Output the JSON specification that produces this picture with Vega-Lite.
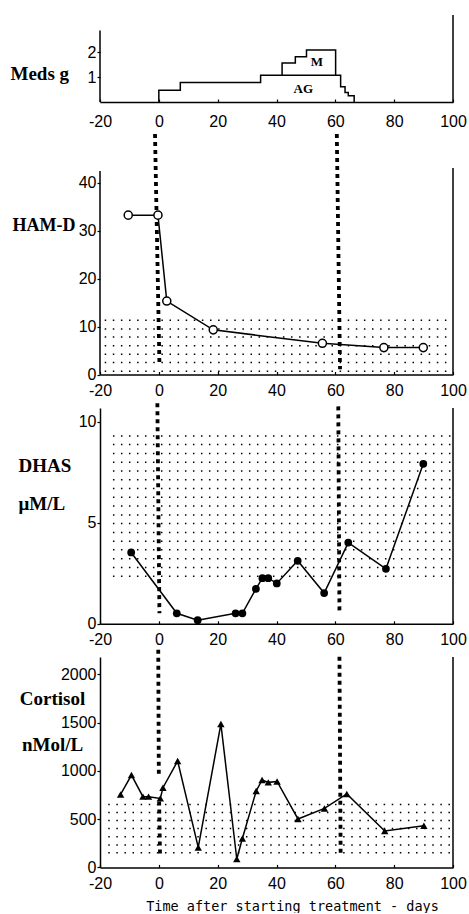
{
  "$schema": "https://vega.github.io/schema/vega-lite/v6.json",
  "background": "white",
  "padding": {"left": 10, "top": 14, "right": 0, "bottom": 0},
  "config": {
    "view": {"stroke": null},
    "axis": {
      "grid": false,
      "labelFont": "Liberation Sans",
      "labelFontSize": 16,
      "labelColor": "black",
      "domainColor": "black",
      "domainWidth": 1.5,
      "tickColor": "black",
      "tickWidth": 1.2,
      "titleFont": "Liberation Serif",
      "titleFontWeight": "bold",
      "titleFontSize": 19,
      "titleColor": "black",
      "labelExpr": "'' + datum.value"
    }
  },
  "datasets": {
    "meds_ag": [
      {"i": 1, "day": 0, "g": 0}, {"i": 2, "day": 0, "g": 0.47}, {"i": 3, "day": 7.3, "g": 0.47},
      {"i": 4, "day": 7.3, "g": 0.78}, {"i": 5, "day": 34.6, "g": 0.78}, {"i": 6, "day": 34.6, "g": 1.08},
      {"i": 7, "day": 61.8, "g": 1.08}, {"i": 8, "day": 61.8, "g": 0.61}, {"i": 9, "day": 63.3, "g": 0.61},
      {"i": 10, "day": 63.3, "g": 0.38}, {"i": 11, "day": 64.4, "g": 0.38}, {"i": 12, "day": 64.4, "g": 0.25},
      {"i": 13, "day": 66.4, "g": 0.25}, {"i": 14, "day": 66.4, "g": 0}
    ],
    "meds_m": [
      {"i": 1, "day": 41.9, "g": 1.08}, {"i": 2, "day": 41.9, "g": 1.57}, {"i": 3, "day": 46.4, "g": 1.57},
      {"i": 4, "day": 46.4, "g": 1.82}, {"i": 5, "day": 50.2, "g": 1.82}, {"i": 6, "day": 50.2, "g": 2.09},
      {"i": 7, "day": 60.1, "g": 2.09}, {"i": 8, "day": 60.1, "g": 1.08}
    ],
    "meds_labels": [
      {"day": 53.7, "g": 1.59, "label": "M"},
      {"day": 49.1, "g": 0.51, "label": "AG"}
    ],
    "hamd": [
      {"day": -10.4, "score": 33.2}, {"day": -0.3, "score": 33.2}, {"day": 2.7, "score": 15.3},
      {"day": 18.5, "score": 9.3}, {"day": 55.6, "score": 6.5}, {"day": 76.5, "score": 5.6},
      {"day": 89.9, "score": 5.6}
    ],
    "hamd_dots": [
      {"level": 11.3}, {"level": 9.5}, {"level": 7.8}, {"level": 6.0}, {"level": 4.2}, {"level": 2.5}, {"level": 0.7}
    ],
    "dhas": [
      {"day": -9.4, "v": 3.53}, {"day": 6.1, "v": 0.52}, {"day": 13.2, "v": 0.18}, {"day": 26.1, "v": 0.52},
      {"day": 28.4, "v": 0.52}, {"day": 33.0, "v": 1.73}, {"day": 35.2, "v": 2.26}, {"day": 37.2, "v": 2.26},
      {"day": 40.1, "v": 2.0}, {"day": 47.2, "v": 3.12}, {"day": 56.2, "v": 1.52}, {"day": 64.4, "v": 4.02},
      {"day": 77.2, "v": 2.72}, {"day": 89.9, "v": 7.92}
    ],
    "dhas_dots": [
      {"level": 9.30}, {"level": 8.87}, {"level": 8.43}, {"level": 8.00}, {"level": 7.56}, {"level": 7.13},
      {"level": 6.70}, {"level": 6.26}, {"level": 5.83}, {"level": 5.39}, {"level": 4.96}, {"level": 4.52},
      {"level": 4.09}, {"level": 3.66}, {"level": 3.22}, {"level": 2.79}, {"level": 2.35}
    ],
    "cort": [
      {"day": -13, "v": 756}, {"day": -9.3, "v": 957}, {"day": -5.4, "v": 733}, {"day": -3.5, "v": 733},
      {"day": 0.5, "v": 715}, {"day": 1.4, "v": 826}, {"day": 6.4, "v": 1102}, {"day": 13.4, "v": 207},
      {"day": 21.1, "v": 1486}, {"day": 26.5, "v": 87}, {"day": 28.4, "v": 300}, {"day": 33.1, "v": 792},
      {"day": 35.1, "v": 906}, {"day": 37.2, "v": 881}, {"day": 40.2, "v": 890}, {"day": 47.3, "v": 502},
      {"day": 56.3, "v": 611}, {"day": 63.9, "v": 761}, {"day": 76.8, "v": 377}, {"day": 90.1, "v": 432}
    ],
    "cort_dots": [
      {"level": 653}, {"level": 570}, {"level": 487}, {"level": 404}, {"level": 318}, {"level": 231}, {"level": 152}
    ]
  },
  "vconcat": [
    {
      "width": 353,
      "height": 87,
      "layer": [
        {
          "data": {"name": "meds_ag"},
          "mark": {"type": "line", "color": "black", "strokeWidth": 1.5},
          "encoding": {
            "x": {"field": "day", "type": "quantitative", "scale": {"domain": [-20, 100], "nice": false, "zero": false},
              "axis": {"values": [-20, 0, 20, 40, 60, 80, 100], "title": null, "labelFlush": false, "labelOverlap": false, "tickSize": -3, "labelPadding": 14}},
            "y": {"field": "g", "type": "quantitative", "scale": {"domain": [0, 3.5], "nice": false},
              "axis": {"values": [1, 2], "domain": false, "tickSize": 3, "labelPadding": 1, "title": "Meds g", "titleAngle": 0, "titleAlign": "left", "titleBaseline": "alphabetic", "titleX": -90, "titleY": 64.5}},
            "order": {"field": "i"}
          }
        },
        {
          "data": {"name": "meds_m"},
          "mark": {"type": "line", "color": "black", "strokeWidth": 1.5},
          "encoding": {
            "x": {"field": "day", "type": "quantitative"},
            "y": {"field": "g", "type": "quantitative"},
            "order": {"field": "i"}
          }
        },
        {
          "data": {"name": "meds_labels"},
          "mark": {"type": "text", "font": "Liberation Serif", "fontWeight": "bold", "fontSize": 13, "color": "black", "baseline": "middle"},
          "encoding": {
            "x": {"field": "day", "type": "quantitative"},
            "y": {"field": "g", "type": "quantitative"},
            "text": {"field": "label"}
          }
        },
        {
          "data": {"values": [{}]},
          "mark": {"type": "rule", "color": "black", "strokeWidth": 1.5},
          "encoding": {"x": {"datum": -20}, "y": {"datum": 0}, "y2": {"datum": 2.88}}
        },
        {
          "data": {"values": [{}]},
          "mark": {"type": "rule", "color": "black", "strokeWidth": 1.5},
          "encoding": {"x": {"datum": 100}, "y": {"datum": 0}, "y2": {"datum": 3.5}}
        }
      ]
    },
    {
      "width": 353,
      "height": 239.5,
      "layer": [
        {
          "data": {"name": "hamd_dots"},
          "mark": {"type": "rule", "color": "black", "strokeWidth": 1.5, "strokeDash": [1.5, 6.6]},
          "encoding": {
            "x": {"datum": -18.4, "scale": {"domain": [-20, 100], "nice": false, "zero": false},
              "axis": {"values": [-20, 0, 20, 40, 60, 80, 100], "title": null, "labelFlush": false, "labelOverlap": false, "tickSize": -3, "labelPadding": 11}},
            "x2": {"datum": 100},
            "y": {"field": "level", "type": "quantitative", "scale": {"domain": [0, 49.9], "nice": false},
              "axis": {"values": [0, 10, 20, 30, 40], "domain": false, "tickSize": 3, "labelPadding": 1, "title": "HAM-D", "titleFontSize": 18, "titleAngle": 0, "titleAlign": "left", "titleBaseline": "alphabetic", "titleX": -88, "titleY": 95.8}}
          }
        },
        {
          "data": {"values": [{}]},
          "mark": {"type": "rule", "color": "black", "strokeWidth": 3.8, "strokeDash": [4, 4]},
          "encoding": {"x": {"datum": -1.3}, "x2": {"datum": 0.2}, "y": {"datum": 50.1}, "y2": {"datum": 2.2}}
        },
        {
          "data": {"values": [{}]},
          "mark": {"type": "rule", "color": "black", "strokeWidth": 3.8, "strokeDash": [4, 4]},
          "encoding": {"x": {"datum": 60.5}, "x2": {"datum": 61.6}, "y": {"datum": 50.1}, "y2": {"datum": 1.1}}
        },
        {
          "data": {"values": [{}]},
          "mark": {"type": "rule", "color": "black", "strokeWidth": 1.5},
          "encoding": {"x": {"datum": -20}, "y": {"datum": 0}, "y2": {"datum": 42.4}}
        },
        {
          "data": {"values": [{}]},
          "mark": {"type": "rule", "color": "black", "strokeWidth": 1.5},
          "encoding": {"x": {"datum": 100}, "y": {"datum": 0}, "y2": {"datum": 43.0}}
        },
        {
          "data": {"name": "hamd"},
          "mark": {"type": "line", "color": "black", "strokeWidth": 1.5},
          "encoding": {
            "x": {"field": "day", "type": "quantitative"},
            "y": {"field": "score", "type": "quantitative"}
          }
        },
        {
          "data": {"name": "hamd"},
          "mark": {"type": "point", "shape": "circle", "size": 65, "filled": true, "fill": "white", "stroke": "black", "strokeWidth": 1.5, "opacity": 1},
          "encoding": {
            "x": {"field": "day", "type": "quantitative"},
            "y": {"field": "score", "type": "quantitative"}
          }
        }
      ]
    },
    {
      "width": 353,
      "height": 215.8,
      "layer": [
        {
          "data": {"name": "dhas_dots"},
          "mark": {"type": "rule", "color": "black", "strokeWidth": 1.5, "strokeDash": [1.5, 6.5]},
          "encoding": {
            "x": {"datum": -15.6, "scale": {"domain": [-20, 100], "nice": false, "zero": false},
              "axis": {"values": [-20, 0, 20, 40, 60, 80, 100], "title": null, "labelFlush": false, "labelOverlap": false, "tickSize": -3, "labelPadding": 11}},
            "x2": {"datum": 99.5},
            "y": {"field": "level", "type": "quantitative", "scale": {"domain": [0, 10.68], "nice": false},
              "axis": {"values": [0, 5, 10], "tickSize": 3, "labelPadding": 1, "title": ["DHAS", "μM/L"], "titleLineHeight": 37.7, "titleAngle": 0, "titleAlign": "left", "titleBaseline": "alphabetic", "titleX": -82, "titleY": 63.5}}
          }
        },
        {
          "data": {"values": [{}]},
          "mark": {"type": "rule", "color": "black", "strokeWidth": 3.8, "strokeDash": [4, 4]},
          "encoding": {"x": {"datum": -0.5}, "x2": {"datum": 0.2}, "y": {"datum": 10.92}, "y2": {"datum": 0.52}}
        },
        {
          "data": {"values": [{}]},
          "mark": {"type": "rule", "color": "black", "strokeWidth": 3.8, "strokeDash": [4, 4]},
          "encoding": {"x": {"datum": 61.0}, "x2": {"datum": 61.4}, "y": {"datum": 10.76}, "y2": {"datum": 0.61}}
        },
        {
          "data": {"values": [{}]},
          "mark": {"type": "rule", "color": "black", "strokeWidth": 1.5},
          "encoding": {"x": {"datum": 100}, "y": {"datum": 0}, "y2": {"datum": 10.68}}
        },
        {
          "data": {"name": "dhas"},
          "mark": {"type": "line", "color": "black", "strokeWidth": 1.5},
          "encoding": {
            "x": {"field": "day", "type": "quantitative"},
            "y": {"field": "v", "type": "quantitative"}
          }
        },
        {
          "data": {"name": "dhas"},
          "mark": {"type": "point", "shape": "circle", "size": 60, "filled": true, "color": "black", "opacity": 1},
          "encoding": {
            "x": {"field": "day", "type": "quantitative"},
            "y": {"field": "v", "type": "quantitative"}
          }
        }
      ]
    },
    {
      "width": 353,
      "height": 210.4,
      "layer": [
        {
          "data": {"name": "cort_dots"},
          "mark": {"type": "rule", "color": "black", "strokeWidth": 1.5, "strokeDash": [1.5, 6.6]},
          "encoding": {
            "x": {"datum": -17.2, "scale": {"domain": [-20, 100], "nice": false, "zero": false},
              "axis": {"values": [-20, 0, 20, 40, 60, 80, 100], "labelFlush": false, "labelOverlap": false, "tickSize": -3, "labelPadding": 11,
                "title": "Time after starting treatment - days", "titleFont": "DejaVu Sans Mono", "titleFontSize": 13.5, "titleFontWeight": "normal", "titleX": 192, "titleY": 43, "titleAlign": "center", "titleBaseline": "alphabetic"}},
            "x2": {"datum": 100},
            "y": {"field": "level", "type": "quantitative", "scale": {"domain": [0, 2180], "nice": false},
              "axis": {"values": [0, 500, 1000, 1500, 2000], "tickSize": 3, "labelPadding": 1, "title": ["Cortisol", "nMol/L"], "titleLineHeight": 46, "titleAngle": 0, "titleAlign": "center", "titleBaseline": "alphabetic", "titleX": -48, "titleY": 47.9}}
          }
        },
        {
          "data": {"values": [{}]},
          "mark": {"type": "rule", "color": "black", "strokeWidth": 3.8, "strokeDash": [4, 4]},
          "encoding": {"x": {"datum": -0.2}, "x2": {"datum": 0.0}, "y": {"datum": 2256}, "y2": {"datum": 940}}
        },
        {
          "data": {"values": [{}]},
          "mark": {"type": "rule", "color": "black", "strokeWidth": 3.8, "strokeDash": [4, 4]},
          "encoding": {"x": {"datum": 0.1}, "x2": {"datum": 0.4}, "y": {"datum": 683}, "y2": {"datum": 128}}
        },
        {
          "data": {"values": [{}]},
          "mark": {"type": "rule", "color": "black", "strokeWidth": 3.8, "strokeDash": [4, 4]},
          "encoding": {"x": {"datum": 61.4}, "x2": {"datum": 61.8}, "y": {"datum": 2183}, "y2": {"datum": 128}}
        },
        {
          "data": {"values": [{}]},
          "mark": {"type": "rule", "color": "black", "strokeWidth": 1.5},
          "encoding": {"x": {"datum": 100}, "y": {"datum": 0}, "y2": {"datum": 2180}}
        },
        {
          "data": {"name": "cort"},
          "mark": {"type": "line", "color": "black", "strokeWidth": 1.5},
          "encoding": {
            "x": {"field": "day", "type": "quantitative"},
            "y": {"field": "v", "type": "quantitative"}
          }
        },
        {
          "data": {"name": "cort"},
          "mark": {"type": "point", "shape": "triangle-up", "size": 55, "filled": true, "color": "black", "opacity": 1},
          "encoding": {
            "x": {"field": "day", "type": "quantitative"},
            "y": {"field": "v", "type": "quantitative"}
          }
        }
      ]
    }
  ],
  "spacing": 33,
  "bounds": "flush"
}
